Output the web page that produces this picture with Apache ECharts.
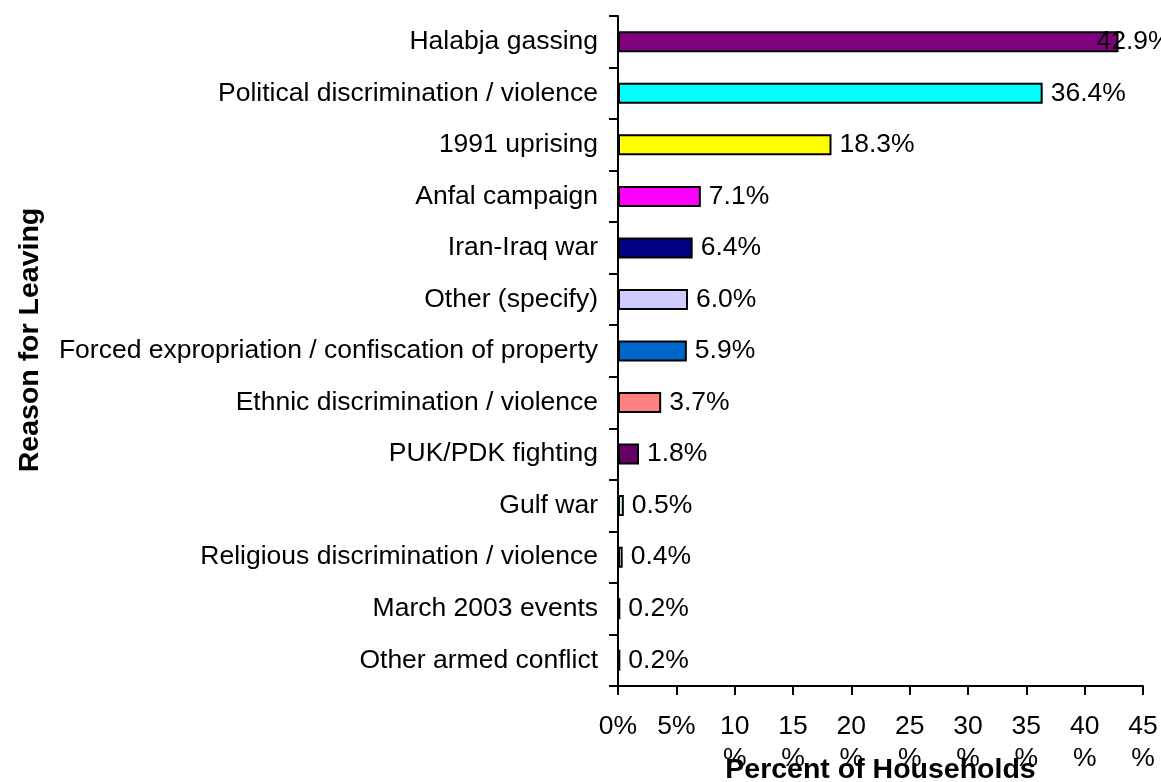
<!DOCTYPE html>
<html>
<head>
<meta charset="utf-8">
<script src="https://cdn.jsdelivr.net/npm/echarts@6/dist/echarts.min.js"></script>
<style>
html,body{margin:0;padding:0;background:#fff;}
#chart{width:1161px;height:782px;}
</style>
</head>
<body>
<div id="chart"></div>
<script>
// Data (top to bottom)
var categories = [
  'Halabja gassing',
  'Political discrimination / violence',
  '1991 uprising',
  'Anfal campaign',
  'Iran-Iraq war',
  'Other (specify)',
  'Forced expropriation / confiscation of property',
  'Ethnic discrimination / violence',
  'PUK/PDK fighting',
  'Gulf war',
  'Religious discrimination / violence',
  'March 2003 events',
  'Other armed conflict'
];
var values = [42.9, 36.4, 18.3, 7.1, 6.4, 6.0, 5.9, 3.7, 1.8, 0.5, 0.4, 0.2, 0.2];
var xTicks = [0, 5, 10, 15, 20, 25, 30, 35, 40, 45];

// Styles
var barColors = ['#800080','#00FFFF','#FFFF00','#FF00FF','#000080','#CCCCFF','#0066CC','#FF8080','#660066','#CCFFFF','#FFFFCC','#993366','#9999FF'];
var FONT = 'Liberation Sans, Arial, sans-serif';
var FS = 26.5;
var TFS = 28.5;

var seriesData = values.map(function (v, i) {
  var item = { value: v, itemStyle: { color: barColors[i] } };
  if (i === 0) { item.label = { offset: [-30, 0] }; }
  return item;
});

var chart = echarts.init(document.getElementById('chart'));
chart.setOption({
  animation: false,
  backgroundColor: '#ffffff',
  textStyle: { fontFamily: FONT },
  grid: { left: 618, right: 18, top: 16, bottom: 96, containLabel: false, outerBoundsMode: 'none' },
  xAxis: {
    type: 'value',
    min: xTicks[0],
    max: xTicks[xTicks.length - 1],
    interval: 5,
    name: 'Percent of Households',
    nameLocation: 'middle',
    nameGap: 70,
    nameMoveOverlap: false,
    nameTextStyle: { fontFamily: FONT, fontSize: TFS, fontWeight: 'bold', color: '#000' },
    axisLine: { show: true, lineStyle: { color: '#000', width: 2 } },
    axisTick: { show: true, length: 9, lineStyle: { color: '#000', width: 2 } },
    splitLine: { show: false },
    axisLabel: {
      margin: 25,
      fontFamily: FONT,
      fontSize: FS,
      lineHeight: 32,
      color: '#000',
      formatter: function (v) { return v < 10 ? v + '%' : v + '\n%'; }
    }
  },
  yAxis: {
    type: 'category',
    data: categories,
    inverse: true,
    name: 'Reason for Leaving',
    nameLocation: 'middle',
    nameGap: 573,
    nameTextStyle: { fontFamily: FONT, fontSize: TFS, fontWeight: 'bold', color: '#000', padding: [0, 0, 0, 22] },
    axisLine: { show: true, lineStyle: { color: '#000', width: 2 } },
    axisTick: { show: true, length: 9, lineStyle: { color: '#000', width: 2 } },
    axisLabel: { margin: 20, fontFamily: FONT, fontSize: FS, color: '#000' }
  },
  series: [{
    type: 'bar',
    data: seriesData,
    barWidth: 21,
    itemStyle: { borderColor: '#000', borderWidth: 2 },
    label: {
      show: true,
      position: 'right',
      distance: 8,
      fontFamily: FONT,
      fontSize: FS,
      color: '#000',
      formatter: function (p) { return p.value.toFixed(1) + '%'; }
    }
  }]
});
</script>
</body>
</html>
